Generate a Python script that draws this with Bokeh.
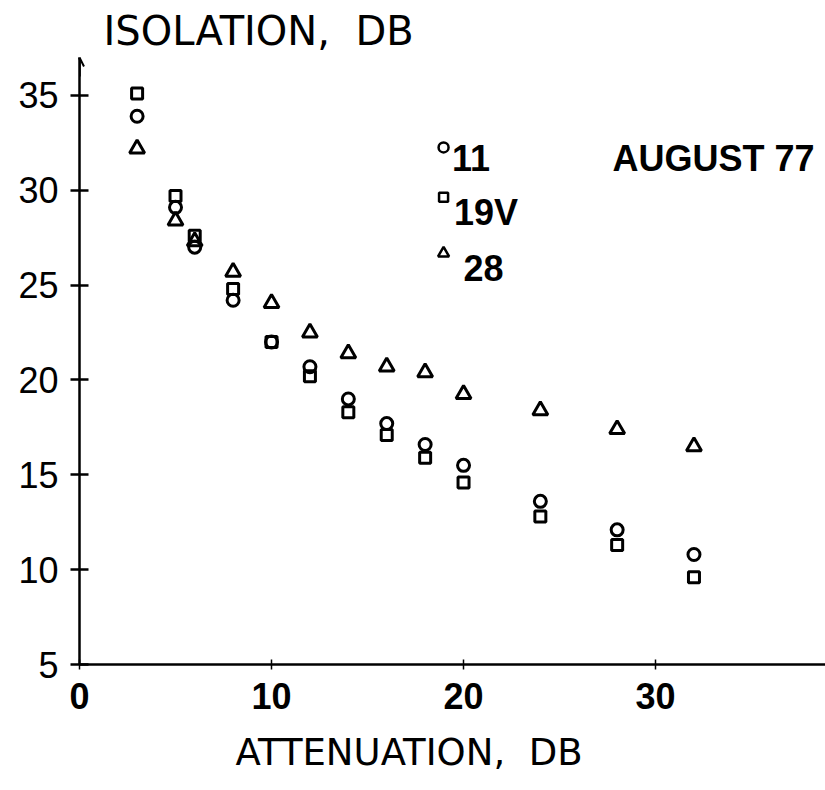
from bokeh.plotting import figure
from bokeh.models import Label, Range1d, FixedTicker, Arrow, OpenHead, Title
from bokeh.embed import file_html
from bokeh.resources import INLINE

# Data
atten = [3, 5, 6, 8, 10, 12, 14, 16, 18, 20, 24, 28, 32]
iso_11 = [33.9, 29.1, 27.0, 24.2, 22.0, 20.7, 19.0, 17.7, 16.6, 15.5, 13.6, 12.1, 10.8]
iso_19v = [35.1, 29.7, 27.6, 24.8, 22.0, 20.2, 18.3, 17.1, 15.9, 14.6, 12.8, 11.3, 9.6]
iso_28 = [32.2, 28.4, 27.3, 25.7, 24.05, 22.5, 21.4, 20.7, 20.4, 19.25, 18.4, 17.4, 16.5]
x_ticks = [0, 10, 20, 30]
y_ticks = [5, 10, 15, 20, 25, 30, 35]
series_names = ["11", "19V", "28"]

FONT = "Liberation Sans"
TFONT = "DejaVu Sans"
NB = "\u00a0"

p = figure(width=825, height=790, output_backend="svg", toolbar_location=None,
           x_range=Range1d(0, 38.85), y_range=Range1d(5, 37.0),
           min_border_left=79, min_border_right=0, min_border_top=57,
           min_border_bottom=125)
p.outline_line_color = None
p.xgrid.visible = False
p.ygrid.visible = False
p.background_fill_color = "white"
p.border_fill_color = "white"

p.title = Title(text="ISOLATION," + NB + NB + "DB", align="left", offset=24,
                text_font=TFONT, text_font_size="40px", text_font_style="normal",
                text_color="black", standoff=8)
p.add_layout(Title(text="ATTENUATION," + NB + NB + "DB", align="left", offset=156,
                   text_font=TFONT, text_font_size="37px", text_font_style="normal",
                   text_color="black", standoff=34), "below")

for ax in (p.xaxis, p.yaxis):
    ax.axis_line_width = 2.5
    ax.axis_line_color = "black"
    ax.major_tick_line_color = "black"
    ax.minor_tick_line_color = None
    ax.major_label_text_font = FONT
    ax.major_label_text_font_size = "36px"
    ax.major_label_text_color = "black"

p.xaxis.ticker = FixedTicker(ticks=x_ticks)
p.yaxis.ticker = FixedTicker(ticks=y_ticks)
p.xaxis.major_tick_in = 5
p.xaxis.major_tick_out = 5
p.xaxis.major_tick_line_width = 1.5
p.yaxis.major_tick_in = 9
p.yaxis.major_tick_out = 9
p.yaxis.major_tick_line_width = 2.5
p.xaxis.major_label_standoff = 13
p.yaxis.major_label_standoff = 12
p.xaxis.major_label_text_font_style = "bold"

# arrow head at top of y axis
p.add_layout(Arrow(end=OpenHead(size=9, line_color="black", line_width=2),
                   x_start=0, y_start=36.0, x_end=0, y_end=37.0,
                   line_color="black", line_width=2.5))

mk = dict(fill_color=None, line_color="black", line_width=3)
p.scatter(atten, iso_11, marker="circle", size=12, **mk)
p.scatter(atten, iso_19v, marker="square", size=11, **mk)
p.scatter(atten, iso_28, marker="triangle", size=15, **mk)

# legend (hand placed, like the original)
lk = dict(fill_color=None, line_color="black", line_width=2.5)
p.scatter([18.96], [32.26], marker="circle", size=10, **lk)
p.scatter([18.96], [29.63], marker="square", size=9, **lk)
p.scatter([18.96], [26.68], marker="triangle", size=11, **lk)
for name, lx, ly in zip(series_names, [19.4, 19.5, 20.0], [31.68, 28.84, 25.9]):
    p.add_layout(Label(x=lx, y=ly, text=name, text_font=FONT, text_font_size="36px",
                       text_font_style="bold", text_color="black",
                       text_baseline="alphabetic"))

p.add_layout(Label(x=27.76, y=31.68, text="AUGUST 77", text_font=FONT,
                   text_font_size="36px", text_font_style="bold", text_color="black",
                   text_baseline="alphabetic"))

open("out.html", "w").write(file_html(p, INLINE))
